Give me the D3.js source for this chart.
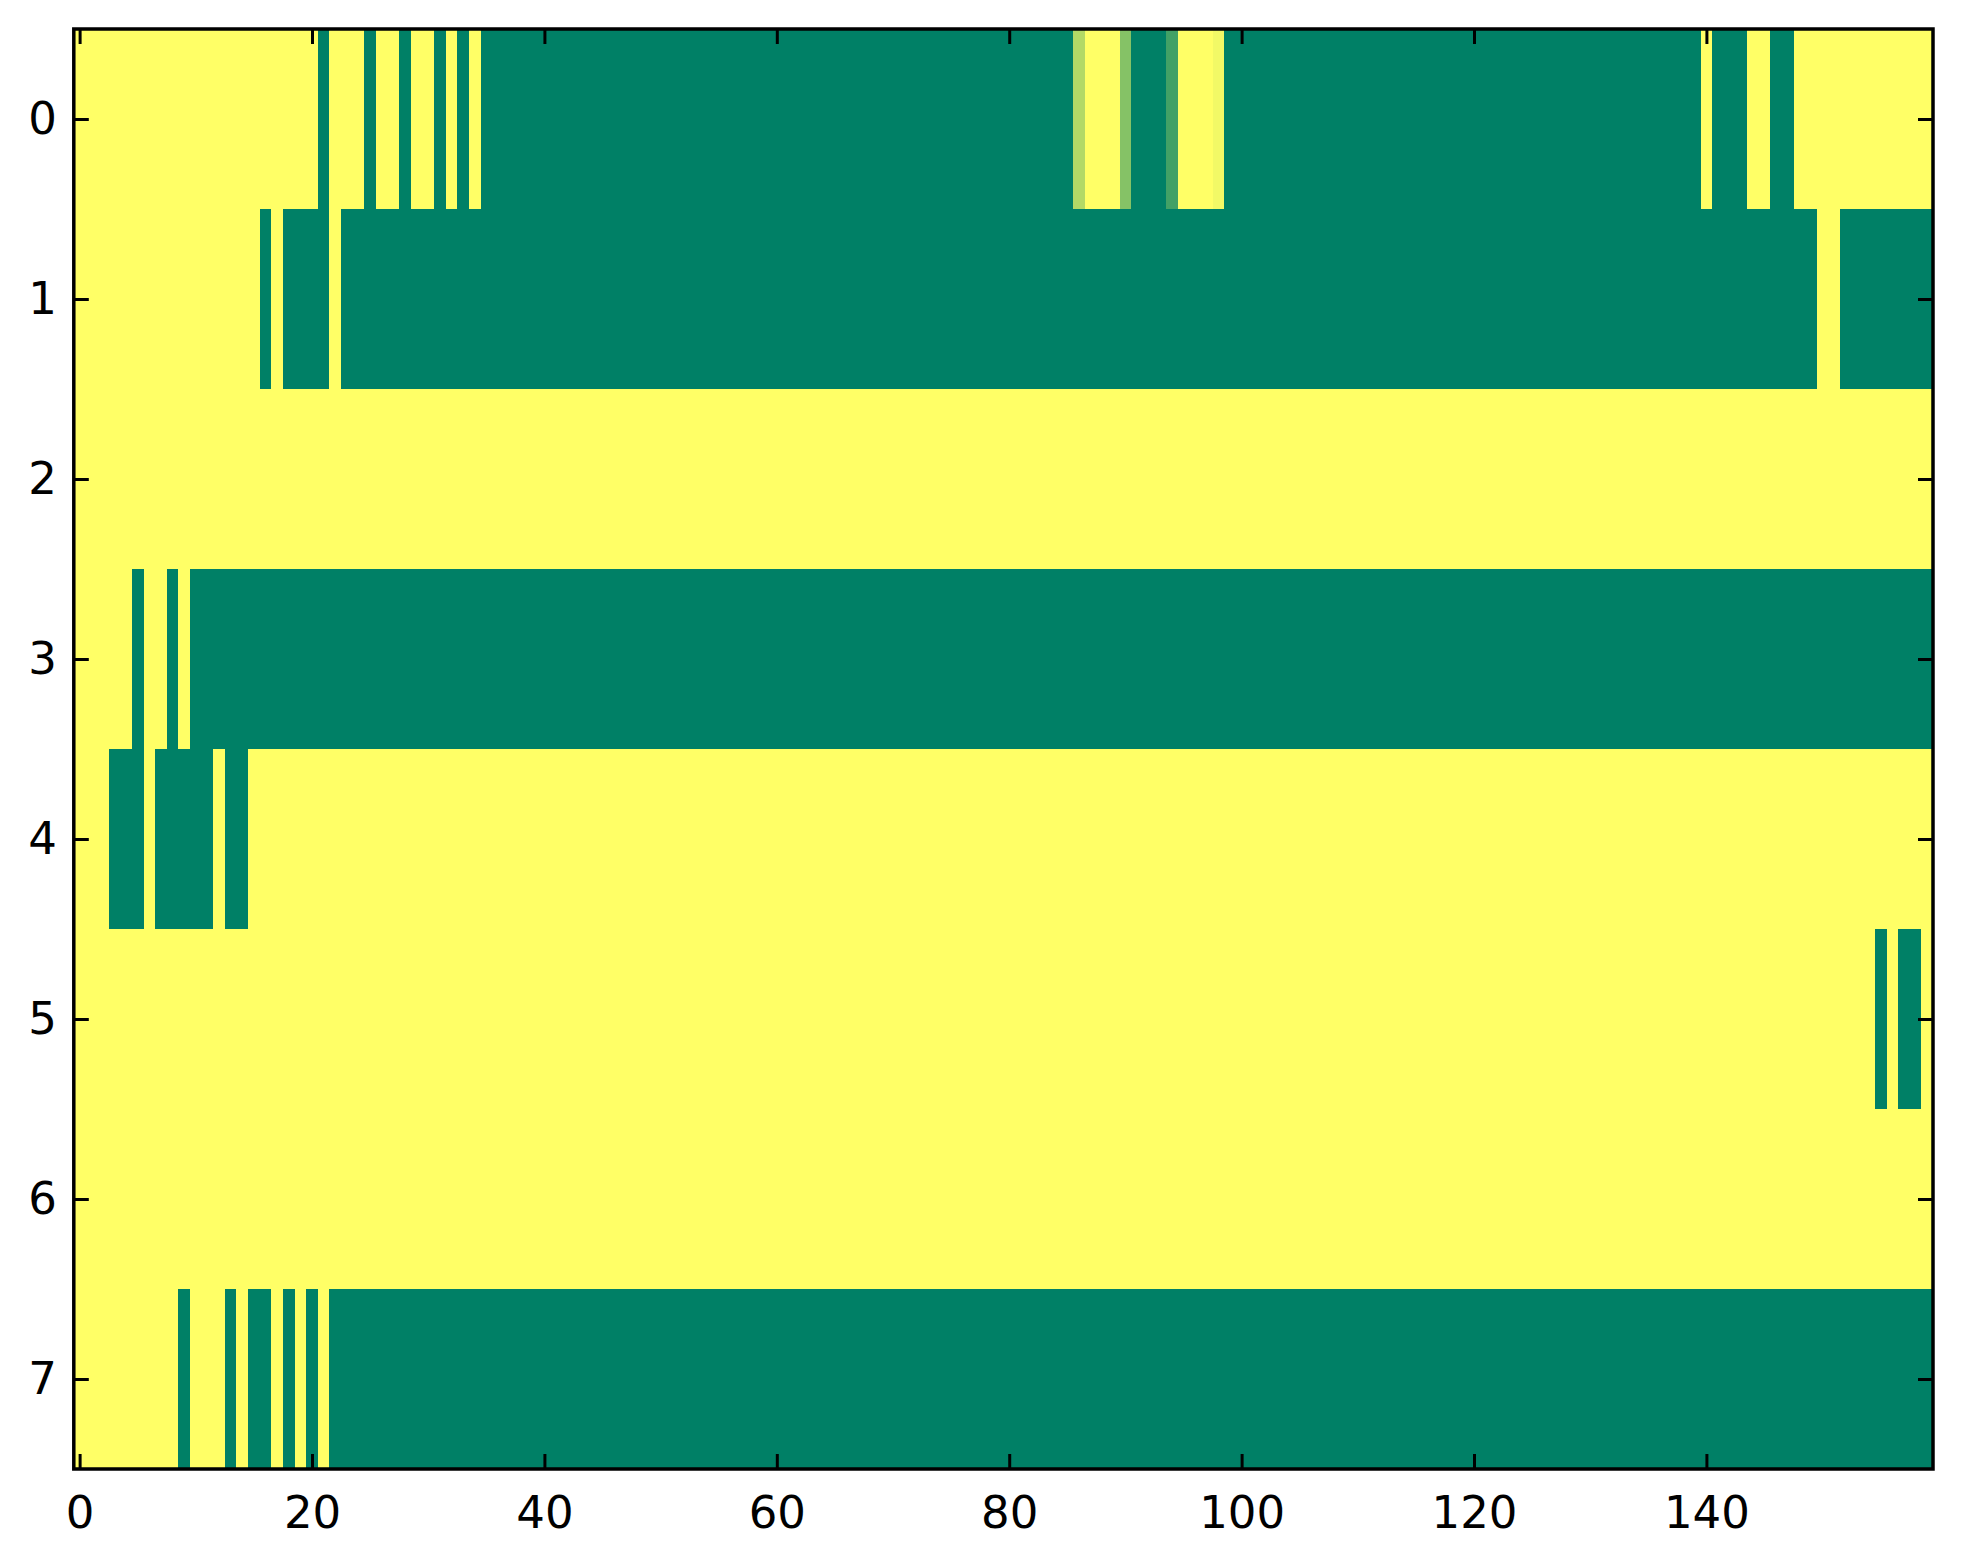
<!DOCTYPE html>
<html>
<head>
<meta charset="utf-8">
<script src="https://cdn.jsdelivr.net/npm/d3@7.9.0/dist/d3.min.js"></script>
<style>
  body { margin: 0; background: #fff; }
  svg { display: block; }
  .tick text { font-family: "DejaVu Sans", sans-serif; font-size: 45px; fill: #000; }
</style>
</head>
<body>
<svg id="chart" width="1963" height="1564"></svg>
<script>
// each row is a list of [value, run length] pairs, read left to right
const row0 = [[1, 21], [0, 1], [1, 3], [0, 1], [1, 2], [0, 1], [1, 2], [0, 1], [1, 1], [0, 1], [1, 1],
  [0, 51], [0.7, 1], [1, 3], [0.52, 1], [0, 3], [0.26, 1], [1, 3], [0.95, 1],
  [0, 41], [1, 1], [0, 3], [1, 2], [0, 2], [1, 12]];
const row1 = [[1, 16], [0, 1], [1, 1], [0, 4], [1, 1], [0, 127], [1, 2], [0, 8]];
const row2 = [[1, 160]];
const row3 = [[1, 5], [0, 1], [1, 2], [0, 1], [1, 1], [0, 150]];
const row4 = [[1, 3], [0, 3], [1, 1], [0, 5], [1, 1], [0, 2], [1, 145]];
const row5 = [[1, 155], [0, 1], [1, 1], [0, 2], [1, 1]];
const row6 = [[1, 160]];
const row7 = [[1, 9], [0, 1], [1, 3], [0, 1], [1, 1], [0, 2], [1, 1], [0, 1], [1, 1], [0, 1], [1, 1], [0, 138]];

const rows = [row0, row1, row2, row3, row4, row5, row6, row7];
const xTicks = [0, 20, 40, 60, 80, 100, 120, 140];
const yTicks = [0, 1, 2, 3, 4, 5, 6, 7];
const nCols = 160;

const plotL = 73.8, plotR = 1933, plotT = 29, plotB = 1469;

const svg = d3.select("#chart");
const x = d3.scaleLinear().domain([-0.5, nCols - 0.5]).range([plotL, plotR]);
const y = d3.scaleLinear().domain([-0.5, rows.length - 0.5]).range([plotT, plotB]);

// matplotlib "summer" colormap
const summer = (v) => d3.rgb(255 * v, 255 * (0.5 + 0.5 * v), 102).toString();

const cells = [];
rows.forEach((runs, r) => {
  let c = 0;
  runs.forEach(([v, n]) => {
    cells.push({ row: r, start: c, len: n, value: v });
    c += n;
  });
});

svg.append("g")
  .selectAll("rect")
  .data(cells)
  .join("rect")
  .attr("x", (d) => x(d.start - 0.5))
  .attr("y", (d) => y(d.row - 0.5))
  .attr("width", (d) => x(d.start + d.len - 0.5) - x(d.start - 0.5) + 0.3)
  .attr("height", (d) => y(d.row + 0.5) - y(d.row - 0.5) + 0.3)
  .attr("fill", (d) => summer(d.value))
  .attr("shape-rendering", "crispEdges");

function styleAxis(g) {
  g.select(".domain").remove();
  g.selectAll(".tick line").attr("stroke", "#000").attr("stroke-width", 3);
}

svg.append("g")
  .attr("transform", `translate(0,${plotB})`)
  .call(d3.axisBottom(x).tickValues(xTicks).tickSizeInner(-15).tickPadding(27).tickFormat(d3.format("d")))
  .call(styleAxis);
svg.append("g")
  .attr("transform", `translate(0,${plotT})`)
  .call(d3.axisTop(x).tickValues(xTicks).tickSizeInner(-15).tickFormat(""))
  .call(styleAxis);
svg.append("g")
  .attr("transform", `translate(${plotL},0)`)
  .call(d3.axisLeft(y).tickValues(yTicks).tickSizeInner(-15).tickPadding(17).tickFormat(d3.format("d")))
  .call(styleAxis);
svg.append("g")
  .attr("transform", `translate(${plotR},0)`)
  .call(d3.axisRight(y).tickValues(yTicks).tickSizeInner(-15).tickFormat(""))
  .call(styleAxis);

svg.append("rect")
  .attr("x", plotL).attr("y", plotT)
  .attr("width", plotR - plotL).attr("height", plotB - plotT)
  .attr("fill", "none").attr("stroke", "#000").attr("stroke-width", 3.5);
</script>
</body>
</html>
